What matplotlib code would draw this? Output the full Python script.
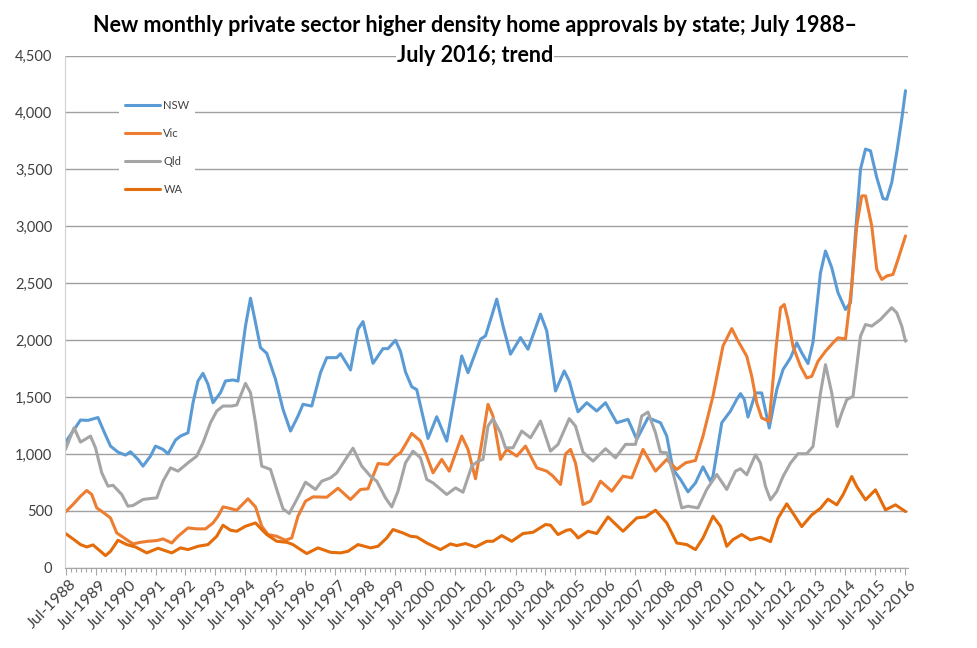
import matplotlib
matplotlib.use("Agg")
import matplotlib.pyplot as plt
import matplotlib.transforms as mtransforms
from matplotlib.ticker import FuncFormatter, MultipleLocator, FixedLocator

plt.rcParams['font.family'] = ['Lato', 'DejaVu Sans']

# months since Jul-1988 and values
nsw_month = [0, 3, 6, 9, 13, 15, 18, 21, 24, 26, 29, 31, 34, 36, 39, 41, 44, 46, 49, 51, 53, 55, 57, 59, 62, 64,
             67, 69, 72, 74, 76, 78, 80.5, 84, 87, 90, 93, 95, 98.5, 102, 104.5, 108.5, 110, 114, 117, 119, 123,
             127, 129, 132, 134, 136, 138.5, 140.5, 145, 148.5, 152.5, 158.5, 161, 166, 168, 170.5, 172.5, 175,
             178, 182, 185, 190, 192.5, 196, 199.5, 201.5, 203.5, 205, 208.5, 212.5, 216, 220.5, 225, 228.5, 233,
             238, 240.5, 243, 246, 249, 252, 255, 258, 259, 262.5, 266, 268.5, 270, 271.5, 273, 276, 278.5, 281.5,
             284.5, 287, 290, 292.5, 294.5, 297, 299, 302, 304, 306.5, 309, 312, 314, 316, 318, 320, 322, 324.5,
             327, 328.5, 330.5, 332.5, 334.5, 336]
nsw = [1104, 1200, 1298, 1295, 1320, 1216, 1069, 1016, 990, 1019, 952, 893, 981, 1069, 1040, 1001, 1122, 1157,
       1186, 1450, 1641, 1708, 1612, 1450, 1538, 1641, 1650, 1640, 2125, 2368, 2154, 1934, 1884, 1656, 1392, 1201,
       1333, 1436, 1421, 1714, 1846, 1846, 1881, 1738, 2096, 2163, 1796, 1925, 1925, 1999, 1900, 1720, 1590, 1565,
       1136, 1327, 1113, 1861, 1714, 2008, 2037, 2213, 2360, 2125, 1876, 2022, 1920, 2228, 2081, 1553, 1729, 1640,
       1480, 1370, 1450, 1377, 1450, 1274, 1304, 1128, 1318, 1274, 1157, 864, 776, 667, 746, 887, 761, 805, 1274,
       1377, 1480, 1530, 1480, 1324, 1536, 1536, 1228, 1565, 1741, 1844, 1976, 1888, 1794, 1981, 2592, 2783, 2636,
       2416, 2269, 2328, 2944, 3501, 3678, 3663, 3428, 3243, 3237, 3384, 3648, 3942, 4191]

vic_month = [0, 3, 6, 8.5, 10.5, 12.5, 15, 18, 20.5, 24, 27, 30, 33, 36.5, 39, 42.5, 45, 49, 52.5, 56, 59, 61, 63,
             65, 68.5, 73, 76, 78.5, 81, 84.5, 88, 90.5, 93, 96, 99, 104.5, 109, 114, 118, 121, 125, 129, 132, 134,
             136, 138.5, 142, 144.5, 147, 150.5, 153.5, 158.5, 161, 164, 166.5, 169, 171, 174, 176.5, 180.5, 184,
             188.5, 192.5, 195, 198, 200, 202, 204, 207, 210, 214, 218.5, 223, 226.5, 231, 236, 240.5, 244.5, 248,
             252, 255, 259, 263, 266.5, 269, 272.5, 274.5, 276.5, 278.5, 281.5, 284, 286, 287.5, 289, 291, 294,
             296.5, 298.5, 301, 304, 307, 309, 312, 314.5, 316.5, 318.5, 320, 322.5, 324.5, 326.5, 328.5, 331, 333,
             336]
vic = [491, 556, 629, 679, 644, 526, 488, 438, 306, 254, 210, 224, 233, 239, 254, 218, 277, 350, 342, 342, 394,
       453, 535, 526, 506, 606, 535, 365, 292, 277, 242, 262, 453, 585, 623, 620, 699, 600, 688, 694, 916, 908,
       981, 1010, 1084, 1180, 1113, 981, 834, 952, 849, 1157, 1040, 782, 1098, 1436, 1333, 952, 1040, 981, 1069,
       878, 849, 805, 732, 1000, 1040, 920, 556, 585, 761, 673, 805, 790, 1040, 849, 952, 864, 922, 943, 1157,
       1509, 1949, 2101, 1993, 1858, 1682, 1448, 1316, 1286, 1888, 2284, 2313, 2181, 1946, 1770, 1668, 1682, 1814,
       1902, 1976, 2020, 2011, 2475, 3003, 3267, 3267, 3003, 2621, 2533, 2563, 2577, 2709, 2915]

qld_month = [0, 3.4, 6, 10, 12, 14.5, 17, 19, 22.5, 25, 27, 31, 33, 36.5, 39, 42, 45, 49, 52.5, 55, 58, 60.5, 63,
             66.5, 68.5, 72, 74, 76, 78.5, 82, 84.5, 87, 89.5, 92.5, 96, 100, 102.5, 106, 108.5, 112, 115, 118.5,
             122, 124.5, 128, 130.5, 133, 136, 139, 142, 144.5, 147, 152.5, 156, 159, 162.5, 165, 167, 169, 171,
             174, 176, 179, 182.5, 186, 190, 194, 197, 201.5, 204, 207, 211, 216, 220, 224, 228, 230.5, 233, 236,
             238, 240.5, 243, 246.5, 249, 253, 256.5, 260.5, 264.5, 268, 270, 272.5, 276, 278, 280, 282, 284.5, 287,
             290, 293, 296.5, 299, 302, 304, 306.5, 308.7, 310.5, 312.5, 315, 318, 320, 322.5, 326, 328.5, 330.5,
             332.5, 334.5, 336]
qld = [1040, 1230, 1104, 1157, 1054, 834, 717, 725, 644, 541, 547, 600, 606, 614, 761, 878, 849, 922, 981, 1098,
       1274, 1377, 1421, 1421, 1430, 1620, 1538, 1274, 893, 864, 688, 518, 477, 600, 752, 688, 761, 790, 834, 952,
       1051, 893, 805, 761, 614, 535, 673, 922, 1025, 966, 776, 746, 644, 702, 664, 893, 937, 952, 1245, 1309,
       1186, 1054, 1054, 1201, 1142, 1289, 1025, 1084, 1310, 1245, 1016, 937, 1046, 966, 1084, 1084, 1333, 1368,
       1186, 1016, 1010, 834, 526, 541, 526, 688, 820, 688, 849, 870, 817, 993, 920, 714, 597, 670, 802, 920,
       1002, 1002, 1066, 1536, 1785, 1536, 1242, 1360, 1477, 1506, 2035, 2137, 2123, 2181, 2240, 2284, 2240,
       2123, 1990]

wa_month = [0, 3, 6, 8.5, 11, 14, 16, 18, 21, 24.5, 28, 32.5, 37, 42.5, 46, 49, 53, 57, 60.5, 63, 66, 68.5, 72,
            76, 78.5, 80.5, 84.5, 88.5, 91, 94, 96.5, 101, 106, 110, 113, 117, 122, 125, 128.5, 131, 135, 138,
            140.5, 144.5, 150, 154, 156.5, 160, 164, 168.5, 171, 174.5, 178.5, 183, 187, 192, 194, 197, 200.5, 202,
            204, 205, 209, 212.5, 217, 223, 228.5, 232, 236, 240.5, 244.5, 248.5, 252, 255, 259, 262, 264.5, 267,
            270.5, 274, 278, 282, 285, 288.5, 291, 294.5, 298.5, 302, 305, 308.5, 311, 314.5, 316.5, 320, 324, 328,
            332, 336]
wa = [301, 254, 204, 183, 201, 145, 107, 145, 242, 204, 183, 131, 172, 131, 175, 160, 189, 204, 277, 374, 330,
      321, 365, 394, 336, 292, 233, 224, 204, 160, 125, 175, 136, 131, 145, 204, 175, 189, 262, 336, 306, 277,
      271, 218, 160, 210, 195, 213, 183, 233, 233, 283, 233, 301, 312, 380, 374, 292, 330, 336, 292, 262, 321,
      301, 447, 321, 438, 447, 506, 394, 218, 204, 160, 262, 453, 365, 189, 248, 292, 245, 268, 230, 435, 562,
      479, 362, 465, 523, 603, 553, 641, 802, 714, 597, 685, 509, 553, 494]

series_names = ['NSW', 'Vic', 'Qld', 'WA']
series_colors = ['#5B9BD5', '#ED7D31', '#A5A5A5', '#E46C0A']
tick_years = list(range(1988, 2017))
tick_labels = [f'Jul-{y}' for y in tick_years]
y_ticks = [0, 500, 1000, 1500, 2000, 2500, 3000, 3500, 4000, 4500]

W, H = 977, 648
fig = plt.figure(figsize=(W / 100, H / 100), dpi=100)
left, right, top, bottom = 65, 908, 55.5, 567.8
ax = fig.add_axes([left / W, 1 - bottom / H, (right - left) / W, (bottom - top) / H])

data = [(nsw_month, nsw), (vic_month, vic), (qld_month, qld), (wa_month, wa)]
lines = []
for (mx, vals), name, col in zip(data, series_names, series_colors):
    ln, = ax.plot(mx, vals, color=col, lw=2.2, label=name, solid_joinstyle='round', solid_capstyle='round')
    lines.append(ln)

ax.set_xlim(-0.2, 337.0)
ax.set_ylim(0, 4500)
ax.set_yticks(y_ticks)
ax.yaxis.set_major_formatter(FuncFormatter(lambda v, p: f'{int(v):,}'))
ax.yaxis.grid(True, color='#A0A0A0', lw=1.0)
ax.set_axisbelow(True)
ax.tick_params(axis='y', length=0, pad=9, labelsize=10.5, labelcolor='#404040')

ax.xaxis.set_major_locator(FixedLocator([(y - 1988) * 12 for y in tick_years]))
ax.xaxis.set_minor_locator(MultipleLocator(2))
ax.set_xticklabels(tick_labels, rotation=45, ha='right', rotation_mode='anchor')
ax.tick_params(axis='x', which='major', length=5, width=0.8, color='#A6A6A6', labelsize=11.5, pad=2,
               labelcolor='#404040')
ax.tick_params(axis='x', which='minor', length=3, width=0.8, color='#A6A6A6')
offset = mtransforms.ScaledTranslation(4 / 100, 0, fig.dpi_scale_trans)
for lbl in ax.get_xticklabels():
    lbl.set_transform(lbl.get_transform() + offset)

for s in ['top', 'right']:
    ax.spines[s].set_visible(False)
ax.spines['left'].set_color('#D0D0D0')
ax.spines['bottom'].set_color('#A6A6A6')

leg = fig.legend(handles=lines, loc='upper left', bbox_to_anchor=(119 / W, 1 - 94 / H), frameon=True,
                 fontsize=8, labelspacing=1.55, handlelength=3.2, handletextpad=0.3, borderpad=0.5,
                 borderaxespad=0)
leg.get_frame().set_facecolor('white')
leg.get_frame().set_edgecolor('none')
leg.get_frame().set_alpha(1)
for t in leg.get_texts():
    t.set_color('#404040')

fig.text(475 / W, 1 - 25 / H,
         'New monthly private sector higher density home approvals by state; July 1988\u2013',
         ha='center', va='center', fontsize=15.5, fontweight='bold', color='black')
fig.text(475 / W, 1 - 55 / H, 'July 2016; trend', ha='center', va='center', fontsize=15.5,
         fontweight='bold', color='black', bbox=dict(facecolor='white', edgecolor='none', pad=1))

fig.savefig('out.png', dpi=100, facecolor='white')
